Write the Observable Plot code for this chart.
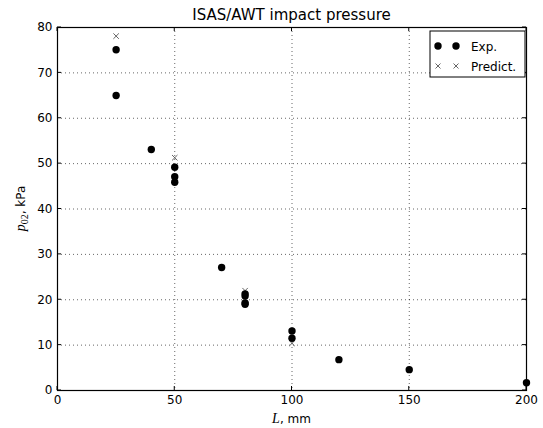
<!DOCTYPE html>
<html><head><meta charset="utf-8">
<script src="https://cdn.jsdelivr.net/npm/d3@7"></script>
<script src="https://cdn.jsdelivr.net/npm/@observablehq/plot@0.6"></script>
<style>
body{margin:0;background:#fff}
svg{font-family:"DejaVu Sans"}
</style>
</head><body><div id="chart"></div>
<script>
// Experimental data: nozzle distance L (mm), impact pressure p02 (kPa)
const expL = [25, 25, 40, 50, 50, 50, 70, 80, 80, 80, 80, 100, 100, 120, 150, 200];
const expP = [75.1, 65.0, 53.1, 49.2, 47.1, 45.9, 27.1, 21.3, 20.8, 19.3, 19.0, 13.1, 11.5, 6.8, 4.6, 1.7];
// Predicted values
const predL = [25, 50, 80, 100];
const predP = [78.1, 51.3, 22.0, 10.4];
// Tick values
const xTicks = [0, 50, 100, 150, 200];
const yTicks = [0, 10, 20, 30, 40, 50, 60, 70, 80];
const titleText = "ISAS/AWT impact pressure";
const legendLabels = ["Exp.", "Predict."];

const expData = expL.map((L, i) => ({L, p: expP[i]}));
const predData = predL.map((L, i) => ({L, p: predP[i]}));

const chart = Plot.plot({
  width: 543, height: 428,
  marginLeft: 57, marginRight: 17, marginTop: 27, marginBottom: 38,
  style: {fontFamily: "DejaVu Sans", fontSize: "12px", background: "#fff", color: "#000"},
  x: {domain: [0, 200]},
  y: {domain: [0, 80]},
  marks: [
    Plot.gridX(xTicks, {stroke: "#000", strokeOpacity: 0.6, strokeDasharray: "1,3", strokeWidth: 1}),
    Plot.gridY(yTicks, {stroke: "#000", strokeOpacity: 0.6, strokeDasharray: "1,3", strokeWidth: 1}),
    Plot.axisX(xTicks, {tickSize: 0, tickPadding: 5, fontSize: 12, label: null}),
    Plot.axisY(yTicks, {tickSize: 0, tickPadding: 5, fontSize: 12, label: null}),
    Plot.dot(predData, {x: "L", y: "p", symbol: "times", r: 2.6, stroke: "#555", strokeWidth: 0.9}),
    Plot.dot(expData, {x: "L", y: "p", r: 3.7, fill: "#000", stroke: "none"}),
    Plot.frame({stroke: "#000", strokeWidth: 1.2})
  ]
});

const svg = d3.select(chart);
const xs = chart.scale("x"), ys = chart.scale("y");
const x0 = xs.apply(0), x1 = xs.apply(200), y0 = ys.apply(0), y1 = ys.apply(80);
const g = svg.append("g").attr("stroke", "#000").attr("stroke-width", 1);
for (const t of xTicks) {
  const x = xs.apply(t);
  g.append("line").attr("x1", x).attr("x2", x).attr("y1", y0).attr("y2", y0 - 4);
  g.append("line").attr("x1", x).attr("x2", x).attr("y1", y1).attr("y2", y1 + 4);
}
for (const t of yTicks) {
  const y = ys.apply(t);
  g.append("line").attr("x1", x0).attr("x2", x0 + 4).attr("y1", y).attr("y2", y);
  g.append("line").attr("x1", x1).attr("x2", x1 - 4).attr("y1", y).attr("y2", y);
}
// Title
svg.append("text").attr("x", (x0 + x1) / 2).attr("y", y1 - 7)
  .attr("text-anchor", "middle").attr("font-size", 15).attr("fill", "#000").text(titleText);
// X label
const xl = svg.append("text").attr("x", (x0 + x1) / 2).attr("y", 423)
  .attr("text-anchor", "middle").attr("font-size", 12).attr("fill", "#000");
xl.append("tspan").attr("font-family", "Liberation Serif").attr("font-style", "italic").attr("font-size", 14).text("L");
xl.append("tspan").text(", mm");
// Y label
const yl = svg.append("text").attr("transform", `translate(25,${(y0 + y1) / 2}) rotate(-90)`)
  .attr("text-anchor", "middle").attr("font-size", 12).attr("fill", "#000");
yl.append("tspan").attr("font-family", "Liberation Serif").attr("font-style", "italic").attr("font-size", 14).text("p");
yl.append("tspan").attr("font-family", "Liberation Serif").attr("font-size", 10).attr("dy", 3).text("02");
yl.append("tspan").attr("dy", -3).text(", kPa");
// Legend
const lx = x1 - 96, ly = y1 + 4;
const lg = svg.append("g").attr("text-anchor", "start");
lg.append("rect").attr("x", lx).attr("y", ly).attr("width", 95).attr("height", 46)
  .attr("fill", "#fff").attr("stroke", "#000").attr("stroke-width", 1);
for (const dx of [8, 26]) {
  lg.append("circle").attr("cx", lx + dx).attr("cy", ly + 15).attr("r", 3.7).attr("fill", "#000");
  lg.append("path").attr("d", `M${lx+dx-2.5},${ly+35-2.5}l5,5M${lx+dx-2.5},${ly+35+2.5}l5,-5`)
    .attr("stroke", "#555").attr("stroke-width", 0.9);
}
lg.append("text").attr("x", lx + 41).attr("y", ly + 19.5).attr("font-size", 12).attr("fill", "#000").text(legendLabels[0]);
lg.append("text").attr("x", lx + 41).attr("y", ly + 39.5).attr("font-size", 12).attr("fill", "#000").text(legendLabels[1]);

document.getElementById("chart").appendChild(chart);
</script>
</body></html>
